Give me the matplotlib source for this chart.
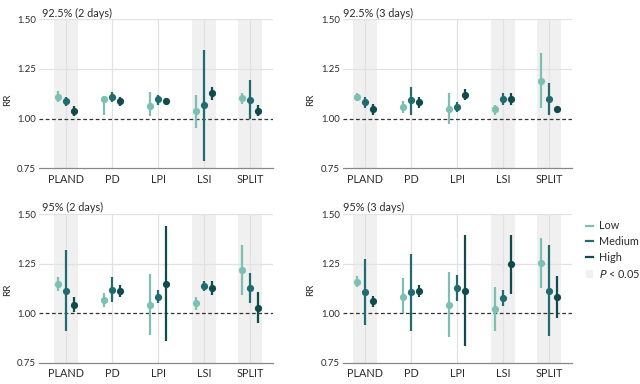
import matplotlib
matplotlib.use("Agg")
import matplotlib.pyplot as plt
from matplotlib.lines import Line2D
from matplotlib.patches import Patch
import numpy as np

plt.rcParams['font.family'] = ['Lato', 'DejaVu Sans']

categories = ["PLAND", "PD", "LPI", "LSI", "SPLIT"]
levels = ["Low", "Medium", "High"]
titles = ["92.5% (2 days)", "92.5% (3 days)", "95% (2 days)", "95% (3 days)"]
significant = [[True, False, False, True, True]] * 4

# estimates [panel][category][level]
rr_925_2 = [[1.110, 1.088, 1.037], [1.098, 1.110, 1.088], [1.063, 1.098, 1.091],
            [1.037, 1.068, 1.127], [1.105, 1.096, 1.037]]
lo_925_2 = [[1.084, 1.063, 1.012], [1.017, 1.084, 1.063], [1.012, 1.071, 1.076],
            [0.953, 0.785, 1.096], [1.076, 1.000, 1.012]]
hi_925_2 = [[1.139, 1.110, 1.062], [1.115, 1.135, 1.110], [1.133, 1.118, 1.105],
            [1.117, 1.346, 1.157], [1.130, 1.193, 1.068]]

rr_925_3 = [[1.110, 1.084, 1.047], [1.059, 1.093, 1.084], [1.049, 1.059, 1.120],
            [1.047, 1.100, 1.098], [1.191, 1.098, 1.046]]
lo_925_3 = [[1.088, 1.054, 1.017], [1.030, 1.020, 1.056], [0.975, 1.034, 1.093],
            [1.017, 1.071, 1.071], [1.056, 1.017, 1.030]]
hi_925_3 = [[1.130, 1.111, 1.076], [1.088, 1.160, 1.110], [1.127, 1.084, 1.147],
            [1.071, 1.127, 1.127], [1.329, 1.177, 1.059]]

rr_95_2 = [[1.147, 1.113, 1.042], [1.068, 1.118, 1.112], [1.042, 1.080, 1.147],
           [1.050, 1.135, 1.127], [1.218, 1.127, 1.027]]
lo_95_2 = [[1.113, 0.908, 1.005], [1.030, 1.055, 1.083], [0.888, 1.050, 0.858],
           [1.017, 1.113, 1.092], [1.092, 1.052, 0.952]]
hi_95_2 = [[1.180, 1.318, 1.080], [1.102, 1.183, 1.142], [1.197, 1.117, 1.438],
           [1.083, 1.160, 1.163], [1.343, 1.202, 1.105]]

rr_95_3 = [[1.158, 1.105, 1.060], [1.083, 1.105, 1.113], [1.043, 1.125, 1.113],
           [1.022, 1.077, 1.247], [1.255, 1.113, 1.083]]
lo_95_3 = [[1.130, 0.938, 1.030], [1.000, 0.910, 1.080], [0.880, 1.060, 0.833],
           [0.910, 1.038, 1.097], [1.127, 0.885, 0.975]]
hi_95_3 = [[1.185, 1.272, 1.088], [1.177, 1.300, 1.142], [1.208, 1.193, 1.392],
           [1.133, 1.117, 1.393], [1.380, 1.342, 1.188]]

panels = [(rr_925_2, lo_925_2, hi_925_2), (rr_925_3, lo_925_3, hi_925_3),
          (rr_95_2, lo_95_2, hi_95_2), (rr_95_3, lo_95_3, hi_95_3)]

colors = ["#7dbfb3", "#1f6b70", "#0f4a4d"]
offsets = [-0.17, 0.0, 0.17]
band_color = "#f0f0f0"
grid_color = "#e2e2e2"
text_color = "#2b2b2b"

fig = plt.figure(figsize=(6.4, 3.84), dpi=100)
rects = [
    [39 / 640, 1 - 168.3 / 384, 234 / 640, 149 / 384],
    [342.7 / 640, 1 - 168.3 / 384, 229.6 / 640, 149 / 384],
    [39 / 640, 1 - 362.7 / 384, 234 / 640, 148.7 / 384],
    [342.7 / 640, 1 - 362.7 / 384, 229.6 / 640, 148.7 / 384],
]
xlims = [(-0.59, 4.5), (-0.49, 4.5), (-0.59, 4.5), (-0.49, 4.5)]
ylab_x = [-0.115, -0.12, -0.115, -0.12]
ylab_y = [0.46, 0.46, 0.49, 0.49]

x = np.arange(len(categories))
for i, (rr, lo, hi) in enumerate(panels):
    ax = fig.add_axes(rects[i])
    ax.set_xlim(*xlims[i])
    ax.set_ylim(0.75, 1.5)
    for j, sig in enumerate(significant[i]):
        if sig:
            ax.axvspan(x[j] - 0.26, x[j] + 0.26, color=band_color, zorder=0, lw=0)
    for j in x:
        ax.axvline(j, color=grid_color, lw=0.9, zorder=0.5)
    for yv in [1.25, 1.5]:
        ax.axhline(yv, color=grid_color, lw=0.9, zorder=0.5)
    ax.axhline(1.0, color="#333333", lw=0.9, ls=(0, (3, 2)), zorder=1)
    rr_a = np.array(rr); lo_a = np.array(lo); hi_a = np.array(hi)
    for k in range(3):
        xs = x + offsets[k]
        ax.vlines(xs, lo_a[:, k], hi_a[:, k], color=colors[k], lw=1.6, zorder=2)
        ax.plot(xs, rr_a[:, k], 'o', color=colors[k], ms=5.2, mew=0, zorder=3)
    ax.set_xticks(x)
    ax.set_xticklabels(categories)
    ax.set_yticks([0.75, 1.0, 1.25, 1.5])
    ax.set_yticklabels(["0.75", "1.00", "1.25", "1.50"])
    for s in ["top", "right", "left"]:
        ax.spines[s].set_visible(False)
    ax.spines["bottom"].set_color("#888888")
    ax.spines["bottom"].set_linewidth(0.9)
    ax.tick_params(axis="x", length=0, labelsize=7.8, colors=text_color, pad=4)
    ax.tick_params(axis="y", length=0, labelsize=6.9, colors=text_color, pad=2)
    ax.set_ylabel("RR", fontsize=7.2, color=text_color)
    ax.yaxis.set_label_coords(ylab_x[i], ylab_y[i])
    ax.set_title(titles[i], loc="left", fontsize=7.8, color=text_color, pad=2,
                 x=0.012 if i % 2 == 0 else 0.0)

handles = [Line2D([0], [0], color=c, lw=1.6) for c in colors]
handles.append(Patch(facecolor=band_color, edgecolor="none"))
labels = levels + ["$P$ < 0.05"]
leg = fig.legend(handles, labels, loc="upper left", bbox_to_anchor=(582 / 640, 1 - 216 / 384),
                 frameon=False, fontsize=7.8, handlelength=0.6, handletextpad=0.6,
                 labelspacing=0.45, borderaxespad=0)
for t in leg.get_texts():
    t.set_color(text_color)

fig.savefig("out.png", dpi=100)
